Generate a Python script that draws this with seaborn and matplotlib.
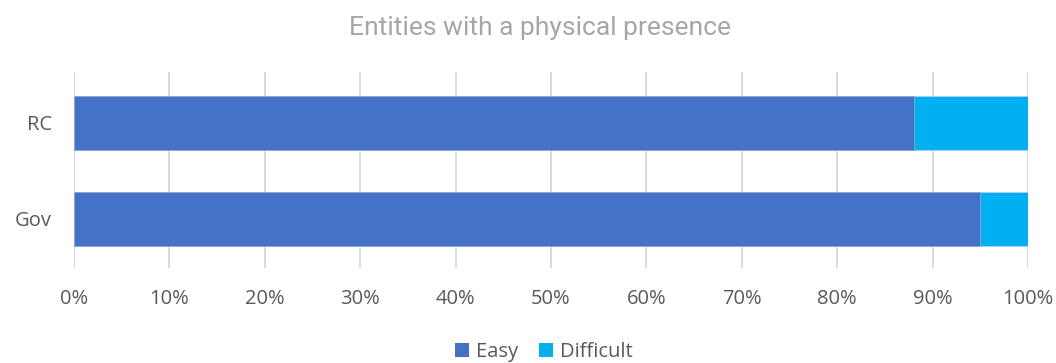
import numpy as np
import pandas as pd
import matplotlib
matplotlib.use("Agg")
import matplotlib.pyplot as plt
import seaborn as sns
from matplotlib.ticker import PercentFormatter, MultipleLocator
from matplotlib.patches import Patch

categories = ["RC", "Gov"]
easy = [0.88, 0.95]
difficult = [0.12, 0.05]
series_names = ["Easy", "Difficult"]
colors = ["#4472C4", "#00B0F0"]

df = pd.DataFrame({"group": categories, "Easy": easy, "Difficult": difficult})
df["total"] = df["Easy"] + df["Difficult"]

sns.set_style("white")
plt.rcParams["font.family"] = ["Open Sans", "DejaVu Sans"]

fig = plt.figure(figsize=(10.56, 3.63), dpi=100)
ax = fig.add_axes([0.070, 0.262, 0.9035, 0.540])

# stacked: draw the total in the difficult colour, then easy on top
sns.barplot(data=df, y="group", x="total", color=colors[1], orient="h", saturation=1,
            width=0.5625, ax=ax, edgecolor="#A9D3F5", linewidth=0.6, zorder=3)
sns.barplot(data=df, y="group", x="Easy", color=colors[0], orient="h", saturation=1,
            width=0.5625, ax=ax, edgecolor="#8FA9DB", linewidth=0.6, zorder=4)

ax.set_xlim(0, 1.0)
ax.set_ylim(1.51, -0.53)
ax.xaxis.set_major_locator(MultipleLocator(0.1))
ax.xaxis.set_major_formatter(PercentFormatter(1.0, decimals=0))
ax.grid(axis="x", color="#D9D9D9", linewidth=1.3, zorder=0)
ax.grid(axis="y", visible=False)
for s in ax.spines.values():
    s.set_visible(False)
ax.tick_params(axis="both", length=0, labelsize=14.5, labelcolor="#595959")
ax.tick_params(axis="y", pad=16)
ax.tick_params(axis="x", pad=15)
ax.set_xlabel("")
ax.set_ylabel("")

fig.text(0.511, 0.922, "Entities with a physical presence", ha="center", va="center",
         fontsize=19, color="#A6A6A6", family=["Roboto", "DejaVu Sans"])

handles = [Patch(facecolor=c, edgecolor="none") for c in colors]
fig.legend(handles, series_names, loc="center", bbox_to_anchor=(0.515, 0.03), ncol=2,
           frameon=False, fontsize=14.5, labelcolor="#595959", handlelength=0.7,
           handleheight=0.7, handletextpad=0.35, columnspacing=1.0)

fig.savefig("out.png", dpi=100)
